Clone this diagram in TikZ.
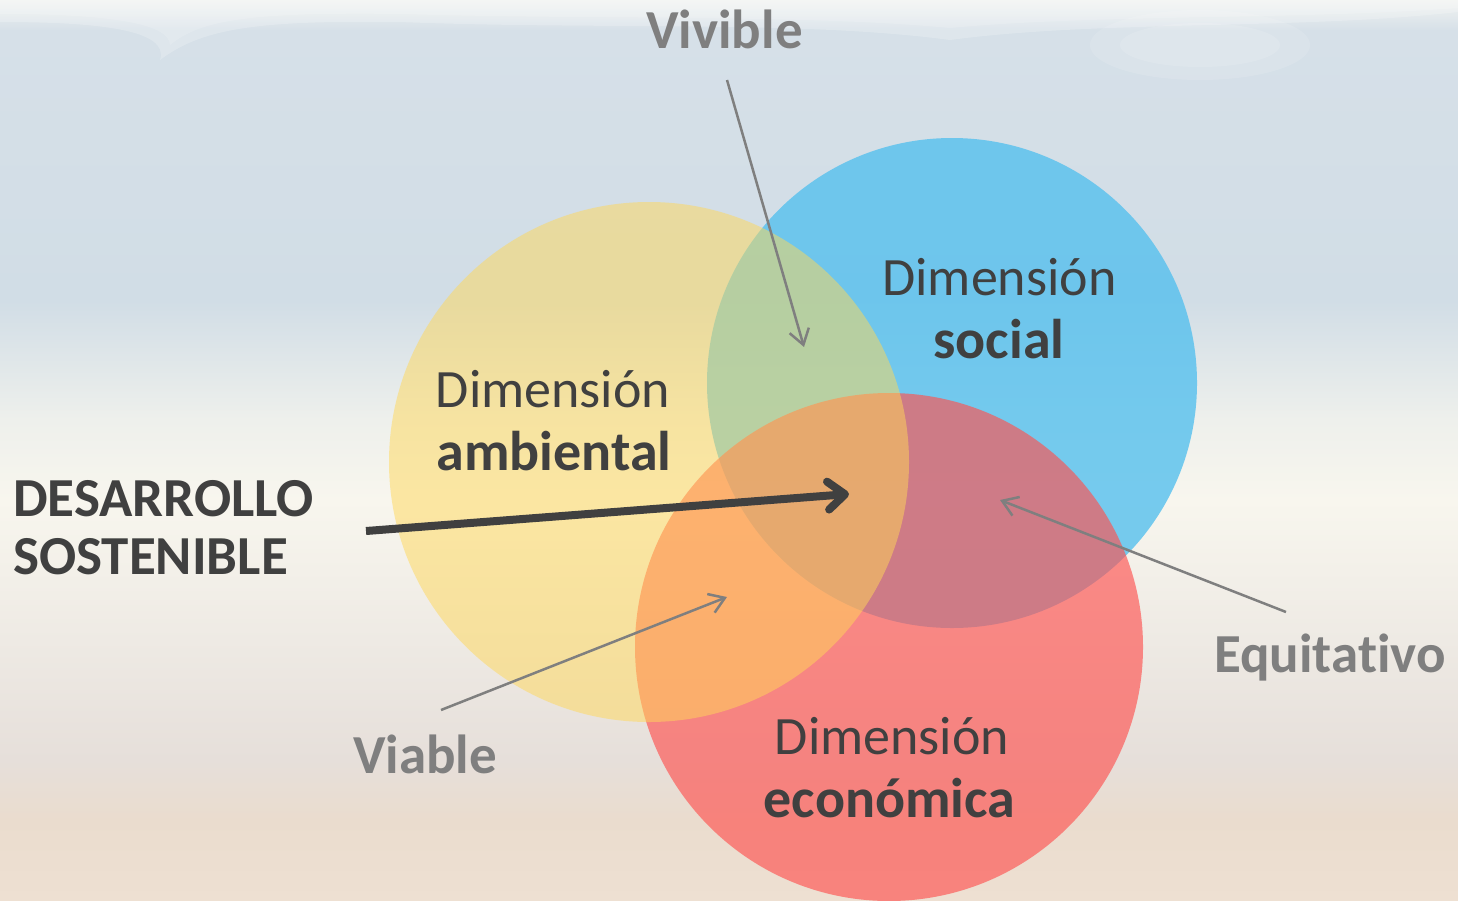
\documentclass[tikz,border=0pt]{standalone}
\usepackage{fontspec}
\setmainfont{Carlito}[Ligatures=NoCommon]
\usetikzlibrary{arrows.meta}
\definecolor{txtdark}{HTML}{404040}
\definecolor{txtgray}{HTML}{7F7F7F}
\definecolor{bgA}{HTML}{F1F3F1}
\definecolor{bgB}{HTML}{D6E0E8}
\definecolor{bgC}{HTML}{D1DDE6}
\definecolor{bgD}{HTML}{EEF0EC}
\definecolor{bgE}{HTML}{F8F6EE}
\definecolor{bgF}{HTML}{EEEAE4}
\definecolor{bgG}{HTML}{E6DFDA}
\definecolor{bgH}{HTML}{EADCCE}
\definecolor{bgI}{HTML}{EEE0D2}
\definecolor{socialblue}{RGB}{85,192,238}
\definecolor{ecored}{RGB}{254,82,80}
\definecolor{ambyellow}{RGB}{255,216,88}
\tikzset{
  dimtxt/.style={inner sep=0pt, text=txtdark, font=\fontsize{54}{60}\selectfont},
  dimbold/.style={inner sep=0pt, text=txtdark, font=\fontsize{56}{62}\selectfont\bfseries},
  graytxt/.style={inner sep=0pt, text=txtgray, font=\fontsize{55}{60}\selectfont\bfseries},
  bigtxt/.style={inner sep=0pt, text=txtdark, font=\fontsize{55}{60}\selectfont\bfseries},
  circ/.style={circle, inner sep=0pt, outer sep=0pt},
  thinarrow/.style={draw=txtgray, line width=2.5pt, -{Straight Barb[length=15pt,width=20pt]}},
  mainarrow/.style={draw=txtdark, line width=8pt, -{Straight Barb[length=17pt,width=28pt,round]}},
}
\begin{document}
\begin{tikzpicture}[x=1pt,y=-1pt]
\useasboundingbox (0,0) rectangle (1458,900);
% background sky
\shade[top color=bgA,bottom color=bgB] (0,0) rectangle (1458,30);
\shade[top color=bgB,bottom color=bgC] (0,30) rectangle (1458,300);
\shade[top color=bgC,bottom color=bgD] (0,300) rectangle (1458,420);
\shade[top color=bgD,bottom color=bgE] (0,420) rectangle (1458,500);
\shade[top color=bgE,bottom color=bgF] (0,500) rectangle (1458,640);
\shade[top color=bgF,bottom color=bgG] (0,640) rectangle (1458,760);
\shade[top color=bgG,bottom color=bgH] (0,760) rectangle (1458,820);
\shade[top color=bgH,bottom color=bgI] (0,820) rectangle (1458,900);
% faint clouds
\fill[white, opacity=0.2] (0,0) -- (1458,0) -- (1458,12) .. controls (1300,30) and (1100,20) .. (950,40) .. controls (800,20) and (600,30) .. (400,22) .. controls (250,20) and (200,30) .. (160,60) .. controls (170,30) and (100,22) .. (0,22) -- cycle;
\fill[white, opacity=0.15] (0,0) -- (1458,0) -- (1458,8) .. controls (1300,20) and (1100,14) .. (950,28) .. controls (800,14) and (600,20) .. (400,14) .. controls (250,12) and (200,20) .. (170,45) .. controls (170,22) and (100,14) .. (0,14) -- cycle;
\fill[white, opacity=0.12] (1200,45) ellipse (110pt and 35pt);
\fill[white, opacity=0.12] (1200,45) ellipse (80pt and 22pt);
% circles
\node[circ, minimum size=490pt, fill=socialblue, fill opacity=0.8] (social) at (952,383) {};
\node[circ, minimum size=508pt, fill=ecored, fill opacity=0.65] (eco) at (889,647) {};
\node[circ, minimum size=520pt, fill=ambyellow, fill opacity=0.5] (amb) at (649,462) {};
% labels
\node[dimtxt, anchor=base] (soc1) at (999.5,295) {Dimensión};
\node[dimbold, anchor=base] (soc2) at (999,358) {social};
\node[dimtxt, anchor=base] (amb1) at (553,407) {Dimensión};
\node[dimbold, anchor=base] (amb2) at (554,470) {ambiental};
\node[dimtxt, anchor=base] (eco1) at (892,754) {Dimensión};
\node[dimbold, anchor=base] (eco2) at (889.5,817) {económica};
\node[bigtxt, anchor=base west] (des1) at (13,516) {DESARROLLO};
\node[bigtxt, anchor=base west] (des2) at (13,574) {SOSTENIBLE};
\node[graytxt, anchor=base] (viv) at (724.5,48) {Vivible};
\node[graytxt, anchor=base west] (equi) at (1214,672) {Equitativo};
\node[graytxt, anchor=base west] (via) at (353,773) {Viable};
% arrows
\coordinate (vivS) at (727,80);
\coordinate (vivE) at (804,347);
\coordinate (equS) at (1286,612);
\coordinate (equE) at (1000,500);
\coordinate (viaS) at (441,710);
\coordinate (viaE) at (727,597);
\coordinate (desS) at (366,531);
\coordinate (desE) at (849,494);
\draw[thinarrow] (vivS) -- (vivE);
\draw[thinarrow] (equS) -- (equE);
\draw[thinarrow] (viaS) -- (viaE);
\draw[mainarrow] (desS) -- (desE);
\end{tikzpicture}
\end{document}
